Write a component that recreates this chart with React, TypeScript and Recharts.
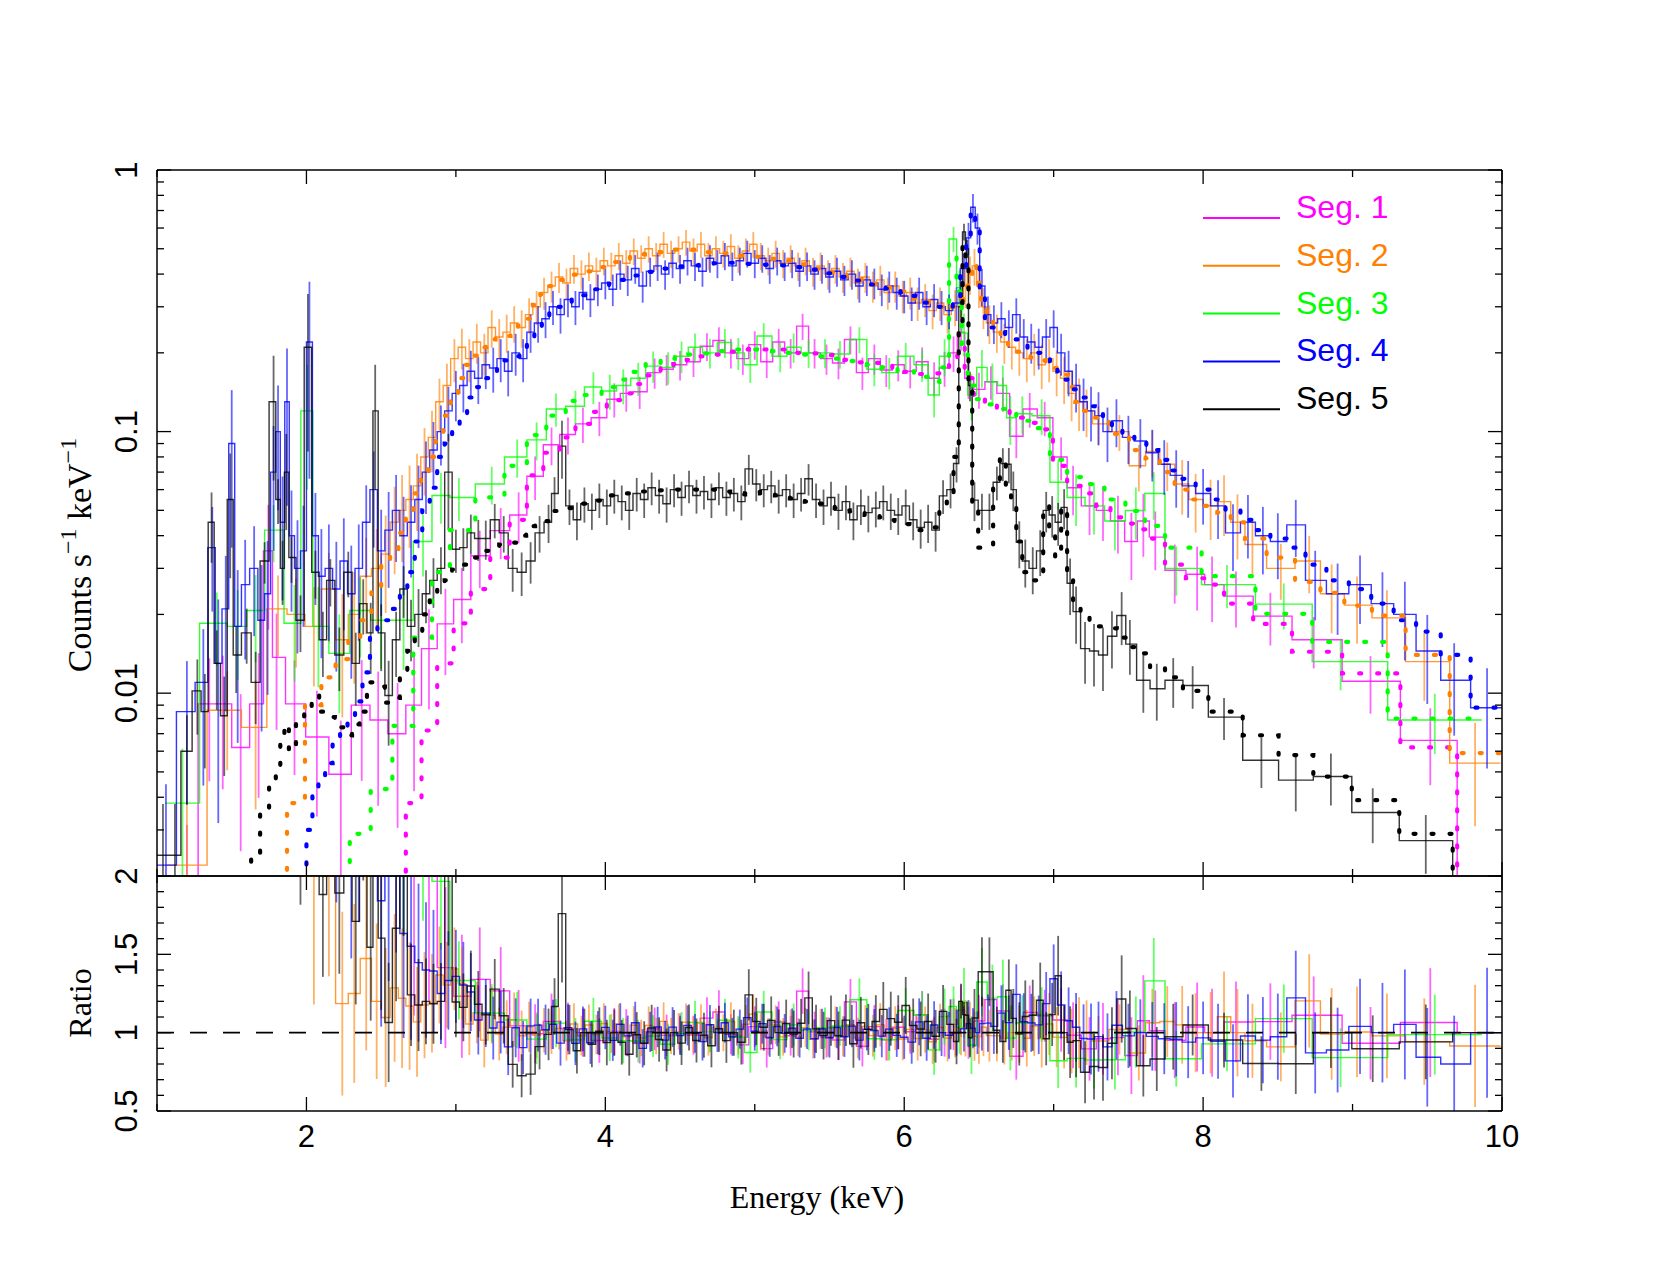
import React from "react";
import { ComposedChart, Line, XAxis, YAxis, ErrorBar, ReferenceLine } from "recharts";

// [energy keV, counts s^-1 keV^-1, model, optional relative error]
type Bin = [number, number, number, number?];

const seg1: Bin[] = [
  [1.2, 0.0015, 0.0003], [1.35, 0.0091, 0.0003], [1.44, 0.0091, 0.0003], [1.56, 0.0062, 0.0003],
  [1.68, 0.0091, 0.0003], [1.745, 0.035, 0.0003, 0.5], [1.8, 0.0137, 0.0003], [1.92, 0.0091, 0.0003],
  [2.07, 0.0068, 0.0003], [2.23, 0.0049, 0.0003], [2.37, 0.009, 0.0003], [2.48, 0.0079, 0.0003],
  [2.61, 0.007, 0.0003], [2.72, 0.009, 0.0038], [2.82, 0.0148, 0.0072], [2.93, 0.0184, 0.013],
  [3.04, 0.0228, 0.0185], [3.16, 0.0335, 0.025], [3.3, 0.0418, 0.033], [3.42, 0.048, 0.046],
  [3.53, 0.0675, 0.068], [3.64, 0.089, 0.083], [3.75, 0.0975, 0.095], [3.85, 0.107, 0.107],
  [3.96, 0.113, 0.119], [4.06, 0.133, 0.132], [4.14, 0.14, 0.14], [4.23, 0.142, 0.152],
  [4.33, 0.168, 0.164], [4.41, 0.173, 0.176], [4.5, 0.18, 0.181], [4.59, 0.185, 0.188],
  [4.68, 0.212, 0.194], [4.76, 0.223, 0.197], [4.84, 0.2, 0.202], [4.92, 0.19, 0.206],
  [5.0, 0.215, 0.207], [5.08, 0.185, 0.206], [5.16, 0.22, 0.206], [5.24, 0.2, 0.204],
  [5.32, 0.253, 0.2], [5.4, 0.2, 0.199], [5.48, 0.19, 0.196], [5.56, 0.183, 0.192],
  [5.64, 0.225, 0.188], [5.72, 0.168, 0.184], [5.8, 0.19, 0.183], [5.88, 0.172, 0.18],
  [5.96, 0.18, 0.174], [6.04, 0.17, 0.169], [6.12, 0.185, 0.166], [6.2, 0.16, 0.167],
  [6.27, 0.175, 0.175], [6.33, 0.2, 0.19], [6.38, 0.24, 0.21], [6.43, 0.16, 0.16],
  [6.5, 0.145, 0.135], [6.58, 0.155, 0.128], [6.66, 0.14, 0.123], [6.75, 0.096, 0.113],
  [6.84, 0.122, 0.108], [6.94, 0.113, 0.102], [7.05, 0.08, 0.074], [7.13, 0.061, 0.062],
  [7.24, 0.052, 0.058], [7.33, 0.05, 0.052], [7.43, 0.0455, 0.047], [7.52, 0.038, 0.0445],
  [7.6, 0.0455, 0.0423], [7.68, 0.0395, 0.039], [7.81, 0.0295, 0.031], [7.96, 0.0285, 0.0275],
  [8.06, 0.026, 0.026], [8.22, 0.0235, 0.022], [8.45, 0.0197, 0.0184], [8.74, 0.016, 0.0144],
  [9.12, 0.0111, 0.0119], [9.52, 0.0066, 0.0062], [9.88, 0.0008, 0.0008, 0],
];

const seg2: Bin[] = [
  [1.2, 0.0022, 0.0003], [1.47, 0.0086, 0.0003], [1.66, 0.0074, 0.0004], [1.81, 0.021, 0.0012],
  [1.93, 0.02, 0.0038], [2.05, 0.018, 0.009], [2.15, 0.025, 0.0115], [2.24, 0.016, 0.0135],
  [2.32, 0.02, 0.016], [2.4, 0.028, 0.019], [2.47, 0.03, 0.025], [2.53, 0.034, 0.031],
  [2.59, 0.045, 0.035], [2.64, 0.05, 0.041], [2.69, 0.055, 0.047], [2.74, 0.062, 0.058],
  [2.79, 0.08, 0.068], [2.84, 0.095, 0.08], [2.89, 0.13, 0.095], [2.94, 0.15, 0.115],
  [2.99, 0.19, 0.135], [3.04, 0.21, 0.16], [3.09, 0.19, 0.18], [3.14, 0.22, 0.195],
  [3.19, 0.2, 0.21], [3.24, 0.25, 0.225], [3.29, 0.23, 0.232], [3.34, 0.24, 0.232],
  [3.39, 0.26, 0.24], [3.44, 0.25, 0.255], [3.49, 0.28, 0.27], [3.54, 0.3, 0.305],
  [3.59, 0.34, 0.335], [3.64, 0.36, 0.36], [3.69, 0.39, 0.38], [3.74, 0.37, 0.39],
  [3.79, 0.42, 0.398], [3.84, 0.4, 0.408], [3.89, 0.43, 0.41], [3.94, 0.41, 0.415],
  [3.99, 0.45, 0.425], [4.04, 0.43, 0.432], [4.09, 0.47, 0.445], [4.14, 0.44, 0.452],
  [4.19, 0.49, 0.468], [4.24, 0.46, 0.476], [4.29, 0.5, 0.478], [4.34, 0.47, 0.48],
  [4.39, 0.52, 0.485], [4.44, 0.48, 0.49], [4.49, 0.5, 0.496], [4.54, 0.53, 0.497],
  [4.59, 0.49, 0.496], [4.64, 0.52, 0.49], [4.69, 0.47, 0.485], [4.74, 0.5, 0.483],
  [4.79, 0.48, 0.48], [4.84, 0.51, 0.476], [4.89, 0.46, 0.47], [4.94, 0.49, 0.465],
  [4.99, 0.52, 0.465], [5.04, 0.47, 0.466], [5.09, 0.45, 0.462], [5.14, 0.48, 0.457],
  [5.19, 0.44, 0.452], [5.24, 0.46, 0.449], [5.29, 0.43, 0.442], [5.34, 0.45, 0.436],
  [5.39, 0.41, 0.428], [5.44, 0.43, 0.42], [5.49, 0.4, 0.411], [5.54, 0.42, 0.405],
  [5.59, 0.39, 0.399], [5.64, 0.41, 0.39], [5.69, 0.37, 0.383], [5.74, 0.39, 0.375],
  [5.79, 0.36, 0.367], [5.84, 0.38, 0.362], [5.89, 0.34, 0.356], [5.94, 0.36, 0.35],
  [5.99, 0.33, 0.344], [6.04, 0.34, 0.333], [6.09, 0.31, 0.322], [6.14, 0.32, 0.314],
  [6.19, 0.29, 0.308], [6.24, 0.31, 0.3], [6.29, 0.28, 0.29], [6.34, 0.3, 0.3],
  [6.38, 0.33, 0.32], [6.41, 0.36, 0.35], [6.44, 0.4, 0.39], [6.47, 0.43, 0.44],
  [6.5, 0.36, 0.37], [6.53, 0.3, 0.29], [6.57, 0.26, 0.265], [6.62, 0.24, 0.245],
  [6.67, 0.22, 0.228], [6.72, 0.21, 0.21], [6.77, 0.2, 0.202], [6.82, 0.19, 0.197],
  [6.87, 0.2, 0.192], [6.92, 0.18, 0.187], [6.97, 0.19, 0.18], [7.02, 0.17, 0.175],
  [7.07, 0.16, 0.165], [7.12, 0.14, 0.148], [7.17, 0.13, 0.13], [7.22, 0.12, 0.12],
  [7.3, 0.107, 0.113], [7.44, 0.1, 0.098], [7.57, 0.074, 0.085], [7.66, 0.084, 0.079],
  [7.76, 0.075, 0.07], [7.86, 0.063, 0.06], [7.95, 0.055, 0.055], [8.05, 0.052, 0.052],
  [8.14, 0.054, 0.049], [8.23, 0.045, 0.045], [8.33, 0.037, 0.039], [8.52, 0.03, 0.033],
  [8.71, 0.032, 0.0266], [8.86, 0.024, 0.0242], [9.03, 0.0217, 0.0216], [9.23, 0.0194, 0.0198],
  [9.48, 0.0132, 0.014], [9.82, 0.0054, 0.0059],
];

const seg3: Bin[] = [
  [1.17, 0.0038, 0.0003], [1.4, 0.0185, 0.0003], [1.54, 0.018, 0.0003], [1.66, 0.0207, 0.0003],
  [1.78, 0.042, 0.0003], [1.92, 0.0185, 0.0003], [2.005, 0.12, 0.0003, 0.5], [2.08, 0.018, 0.0003],
  [2.22, 0.0142, 0.0003], [2.36, 0.0207, 0.0029], [2.5, 0.019, 0.0043], [2.65, 0.019, 0.0075],
  [2.78, 0.038, 0.0163], [2.9, 0.057, 0.029], [3.02, 0.056, 0.042], [3.24, 0.063, 0.056],
  [3.41, 0.08, 0.074], [3.54, 0.093, 0.097], [3.67, 0.122, 0.115], [3.8, 0.125, 0.131],
  [3.92, 0.148, 0.138], [4.03, 0.143, 0.148], [4.12, 0.15, 0.158], [4.22, 0.16, 0.169],
  [4.32, 0.178, 0.182], [4.42, 0.176, 0.19], [4.51, 0.194, 0.195], [4.6, 0.21, 0.197],
  [4.7, 0.2, 0.199], [4.8, 0.219, 0.203], [4.89, 0.2, 0.206], [4.97, 0.18, 0.206],
  [5.06, 0.232, 0.205], [5.17, 0.194, 0.203], [5.26, 0.21, 0.2], [5.36, 0.2, 0.197],
  [5.47, 0.2, 0.194], [5.57, 0.198, 0.19], [5.7, 0.225, 0.186], [5.8, 0.173, 0.18],
  [5.9, 0.168, 0.176], [6.01, 0.194, 0.17], [6.12, 0.18, 0.162], [6.2, 0.138, 0.155],
  [6.27, 0.194, 0.176], [6.33, 0.545, 0.467], [6.37, 0.355, 0.343], [6.4, 0.238, 0.2],
  [6.45, 0.138, 0.15], [6.52, 0.176, 0.133], [6.59, 0.155, 0.127], [6.66, 0.15, 0.122],
  [6.71, 0.113, 0.117], [6.79, 0.117, 0.11], [6.92, 0.115, 0.103], [7.03, 0.064, 0.078],
  [7.15, 0.056, 0.067], [7.27, 0.052, 0.063], [7.41, 0.0455, 0.055], [7.55, 0.0499, 0.0497],
  [7.67, 0.058, 0.0436], [7.82, 0.03, 0.036], [8.16, 0.026, 0.028], [8.54, 0.0219, 0.0201],
  [8.92, 0.0132, 0.0157], [9.55, 0.0079, 0.008],
];

const seg4: Bin[] = [
  [1.06, 0.0022, 0.0003], [1.2, 0.0085, 0.0003], [1.31, 0.011, 0.0003], [1.37, 0.036, 0.0003],
  [1.41, 0.013, 0.0003], [1.46, 0.021, 0.0003], [1.5, 0.09, 0.0003, 0.6], [1.54, 0.018, 0.0003],
  [1.59, 0.026, 0.0003], [1.65, 0.03, 0.0003], [1.7, 0.019, 0.0003], [1.74, 0.024, 0.0003],
  [1.78, 0.07, 0.0003, 0.5], [1.81, 0.1, 0.0003, 0.5], [1.84, 0.045, 0.0003], [1.87, 0.13, 0.0003, 0.6],
  [1.9, 0.04, 0.0003], [1.94, 0.03, 0.0003], [1.98, 0.035, 0.0015], [2.02, 0.22, 0.003, 0.7],
  [2.06, 0.04, 0.0041], [2.1, 0.028, 0.0045], [2.15, 0.03, 0.0054], [2.2, 0.025, 0.0066],
  [2.25, 0.032, 0.0072], [2.3, 0.024, 0.0077], [2.35, 0.03, 0.0093], [2.4, 0.045, 0.012],
  [2.45, 0.06, 0.0165, 0.4], [2.5, 0.035, 0.019], [2.55, 0.042, 0.019], [2.6, 0.05, 0.021],
  [2.65, 0.04, 0.0245], [2.7, 0.045, 0.029], [2.75, 0.055, 0.038], [2.8, 0.07, 0.05],
  [2.85, 0.085, 0.061], [2.9, 0.1, 0.08], [2.95, 0.12, 0.09], [3.0, 0.14, 0.103],
  [3.05, 0.15, 0.115], [3.1, 0.17, 0.135], [3.15, 0.16, 0.148], [3.2, 0.18, 0.16],
  [3.25, 0.175, 0.17], [3.3, 0.19, 0.178], [3.35, 0.17, 0.187], [3.4, 0.2, 0.194],
  [3.45, 0.19, 0.21], [3.5, 0.24, 0.23], [3.55, 0.26, 0.248], [3.6, 0.27, 0.265],
  [3.65, 0.3, 0.285], [3.7, 0.28, 0.3], [3.75, 0.32, 0.31], [3.8, 0.3, 0.322],
  [3.85, 0.34, 0.332], [3.9, 0.32, 0.342], [3.95, 0.35, 0.35], [4.0, 0.37, 0.358],
  [4.05, 0.35, 0.368], [4.1, 0.4, 0.38], [4.15, 0.38, 0.388], [4.2, 0.42, 0.395],
  [4.25, 0.36, 0.4], [4.3, 0.41, 0.408], [4.35, 0.43, 0.415], [4.4, 0.4, 0.42],
  [4.45, 0.44, 0.425], [4.5, 0.42, 0.428], [4.55, 0.45, 0.43], [4.6, 0.43, 0.432],
  [4.65, 0.41, 0.435], [4.7, 0.46, 0.438], [4.75, 0.44, 0.44], [4.8, 0.47, 0.442],
  [4.85, 0.43, 0.442], [4.9, 0.45, 0.44], [4.95, 0.48, 0.438], [5.0, 0.44, 0.436],
  [5.05, 0.46, 0.435], [5.1, 0.42, 0.434], [5.15, 0.45, 0.433], [5.2, 0.43, 0.432],
  [5.25, 0.44, 0.428], [5.3, 0.41, 0.425], [5.35, 0.43, 0.42], [5.4, 0.4, 0.416],
  [5.45, 0.42, 0.41], [5.5, 0.39, 0.403], [5.55, 0.41, 0.397], [5.6, 0.38, 0.39],
  [5.65, 0.4, 0.384], [5.7, 0.36, 0.378], [5.75, 0.38, 0.372], [5.8, 0.37, 0.365],
  [5.85, 0.35, 0.358], [5.9, 0.36, 0.352], [5.95, 0.34, 0.346], [6.0, 0.33, 0.34],
  [6.05, 0.31, 0.33], [6.1, 0.34, 0.318], [6.15, 0.3, 0.311], [6.2, 0.32, 0.305],
  [6.25, 0.3, 0.3], [6.3, 0.29, 0.295], [6.35, 0.31, 0.31], [6.4, 0.42, 0.41],
  [6.43, 0.55, 0.52], [6.46, 0.72, 0.7], [6.49, 0.6, 0.6], [6.52, 0.36, 0.34],
  [6.56, 0.28, 0.264], [6.6, 0.26, 0.25], [6.65, 0.27, 0.24], [6.7, 0.25, 0.235],
  [6.75, 0.28, 0.225], [6.8, 0.23, 0.215], [6.85, 0.22, 0.207], [6.9, 0.21, 0.2],
  [6.95, 0.23, 0.194], [7.0, 0.25, 0.186], [7.05, 0.2, 0.17], [7.1, 0.17, 0.158],
  [7.15, 0.15, 0.145], [7.2, 0.13, 0.135], [7.25, 0.12, 0.125], [7.3, 0.115, 0.118],
  [7.36, 0.1, 0.11], [7.42, 0.11, 0.105], [7.5, 0.095, 0.097], [7.58, 0.092, 0.092],
  [7.66, 0.083, 0.085], [7.74, 0.075, 0.078], [7.82, 0.068, 0.071], [7.9, 0.062, 0.066],
  [8.0, 0.058, 0.06], [8.1, 0.052, 0.055], [8.2, 0.041, 0.05], [8.3, 0.045, 0.046],
  [8.4, 0.04, 0.042], [8.5, 0.038, 0.039], [8.62, 0.044, 0.036], [8.75, 0.027, 0.031],
  [8.9, 0.024, 0.027], [9.05, 0.026, 0.025], [9.2, 0.022, 0.022], [9.35, 0.02, 0.019],
  [9.5, 0.0145, 0.0172], [9.68, 0.0112, 0.014], [9.9, 0.0088, 0.0088],
];

const seg5: Bin[] = [
  [1.04, 0.0024, 0.0003], [1.12, 0.0024, 0.0003], [1.2, 0.006, 0.0003], [1.27, 0.0102, 0.0003],
  [1.32, 0.0085, 0.0003], [1.365, 0.045, 0.0003, 0.3], [1.4, 0.013, 0.0003], [1.45, 0.0082, 0.0003],
  [1.49, 0.055, 0.0003, 0.5], [1.53, 0.014, 0.0003], [1.6, 0.017, 0.0003], [1.66, 0.011, 0.0024],
  [1.72, 0.032, 0.0036], [1.78, 0.13, 0.0046, 0.5], [1.81, 0.055, 0.005], [1.84, 0.03, 0.0066],
  [1.865, 0.07, 0.0076, 0.4], [1.9, 0.033, 0.006], [1.96, 0.019, 0.0079], [2.01, 0.21, 0.0089, 0.6],
  [2.06, 0.029, 0.0098], [2.11, 0.016, 0.0085], [2.16, 0.027, 0.0081], [2.22, 0.014, 0.0074],
  [2.28, 0.029, 0.0069], [2.33, 0.013, 0.0076], [2.38, 0.022, 0.0085], [2.43, 0.017, 0.011],
  [2.46, 0.12, 0.0108, 0.5], [2.5, 0.017, 0.0106], [2.55, 0.0098, 0.0092], [2.6, 0.016, 0.0096],
  [2.65, 0.025, 0.012], [2.7, 0.018, 0.0145], [2.75, 0.02, 0.017], [2.8, 0.024, 0.02],
  [2.85, 0.027, 0.0228], [2.9, 0.03, 0.025], [2.95, 0.07, 0.027, 0.4], [3.0, 0.0355, 0.0297],
  [3.05, 0.036, 0.031], [3.1, 0.041, 0.0316], [3.15, 0.039, 0.033], [3.2, 0.039, 0.035],
  [3.26, 0.046, 0.036], [3.32, 0.041, 0.037], [3.38, 0.03, 0.0376], [3.44, 0.029, 0.04],
  [3.5, 0.032, 0.0435], [3.56, 0.041, 0.045], [3.62, 0.045, 0.0455], [3.66, 0.058, 0.0497],
  [3.71, 0.088, 0.05, 0.25], [3.76, 0.052, 0.051], [3.81, 0.046, 0.052], [3.86, 0.053, 0.053],
  [3.91, 0.05, 0.054], [3.96, 0.055, 0.0545], [4.01, 0.052, 0.0555], [4.06, 0.057, 0.057],
  [4.11, 0.054, 0.0575], [4.16, 0.05, 0.058], [4.21, 0.058, 0.0588], [4.26, 0.055, 0.059],
  [4.31, 0.061, 0.0592], [4.36, 0.057, 0.0596], [4.41, 0.053, 0.0596], [4.46, 0.06, 0.06],
  [4.51, 0.056, 0.06], [4.56, 0.062, 0.06], [4.61, 0.057, 0.06], [4.66, 0.059, 0.06],
  [4.71, 0.055, 0.06], [4.76, 0.061, 0.0595], [4.81, 0.056, 0.059], [4.86, 0.058, 0.058],
  [4.91, 0.054, 0.0575], [4.96, 0.072, 0.058], [5.01, 0.063, 0.0588], [5.06, 0.06, 0.058],
  [5.11, 0.062, 0.0575], [5.16, 0.057, 0.057], [5.21, 0.06, 0.0567], [5.26, 0.055, 0.0555],
  [5.31, 0.058, 0.0547], [5.36, 0.066, 0.054], [5.41, 0.055, 0.0537], [5.46, 0.052, 0.053],
  [5.51, 0.056, 0.052], [5.56, 0.05, 0.051], [5.61, 0.054, 0.05], [5.66, 0.046, 0.0495],
  [5.71, 0.052, 0.0489], [5.76, 0.049, 0.048], [5.81, 0.051, 0.0476], [5.86, 0.054, 0.047],
  [5.91, 0.05, 0.0459], [5.96, 0.048, 0.045], [6.01, 0.052, 0.0443], [6.06, 0.046, 0.044],
  [6.11, 0.043, 0.042], [6.16, 0.045, 0.042], [6.21, 0.042, 0.043], [6.26, 0.0568, 0.05],
  [6.31, 0.06, 0.057], [6.35, 0.0755, 0.08], [6.38, 0.3, 0.25], [6.4, 0.58, 0.52],
  [6.42, 0.5, 0.45], [6.44, 0.15, 0.155], [6.47, 0.0547, 0.05], [6.52, 0.05, 0.036],
  [6.57, 0.05, 0.036], [6.62, 0.064, 0.063], [6.66, 0.0755, 0.08], [6.7, 0.075, 0.059],
  [6.73, 0.06, 0.055], [6.77, 0.0377, 0.038], [6.81, 0.032, 0.029], [6.86, 0.03, 0.027],
  [6.91, 0.035, 0.029], [6.95, 0.05, 0.052], [6.99, 0.048, 0.043], [7.03, 0.045, 0.033],
  [7.07, 0.0513, 0.0513], [7.11, 0.0263, 0.028], [7.15, 0.0205, 0.0216], [7.21, 0.0148, 0.0198],
  [7.27, 0.0145, 0.0185], [7.33, 0.014, 0.018], [7.39, 0.0165, 0.0177], [7.455, 0.0198, 0.0163],
  [7.51, 0.0154, 0.015], [7.6, 0.0112, 0.0142], [7.69, 0.0104, 0.0125], [7.8, 0.0112, 0.0115],
  [7.93, 0.0107, 0.0102], [8.14, 0.0081, 0.0085], [8.39, 0.00554, 0.0069], [8.62, 0.00465, 0.0058],
  [8.855, 0.0048, 0.0048], [9.135, 0.0035, 0.0039], [9.49, 0.00273, 0.0029], [9.85, 0.0008, 0.0008, 0],
];

const segNames = ["Seg. 1", "Seg. 2", "Seg. 3", "Seg. 4", "Seg. 5"];
const segColors = ["#ff00ff", "#ff7f00", "#00ff00", "#0000ff", "#000000"];
const segExposure = [3750, 3000, 3000, 3000, 16000];
const segBins = [seg1, seg2, seg3, seg4, seg5];

const xTicks = [1, 2, 3, 4, 5, 6, 7, 8, 9, 10];
const xMajor = [2, 4, 6, 8, 10];
const countTicks = [
  0.002, 0.003, 0.004, 0.005, 0.006, 0.007, 0.008, 0.009,
  0.01, 0.02, 0.03, 0.04, 0.05, 0.06, 0.07, 0.08, 0.09,
  0.1, 0.2, 0.3, 0.4, 0.5, 0.6, 0.7, 0.8, 0.9, 1,
];
const countMajor = [0.01, 0.1, 1];
const countDomain: [number, number] = [0.002, 1];
const ratioTicks = [0.5, 0.6, 0.7, 0.8, 0.9, 1, 1.1, 1.2, 1.3, 1.4, 1.5, 1.6, 1.7, 1.8, 1.9, 2];
const ratioMajor = [0.5, 1, 1.5, 2];
const ratioDomain: [number, number] = [0.5, 2];

const W = 1661;
const H = 1283;
const LEFT = 157;
const RIGHT = 1502;
const TOP = 170;
const MID = 876;
const BOTTOM = 1111;
const SANS = '"Liberation Sans", Arial, Helvetica, sans-serif';
const SERIF = '"Liberation Serif", "Times New Roman", serif';
const frame = { stroke: "#000", strokeWidth: 1.5 };

// error bar bounds kept inside the panel's value range
function bounds(v: number, lo: number, hi: number, d: [number, number]) {
  const a = Math.max(v - lo, d[0]);
  const b = Math.min(v + hi, d[1]);
  if (b <= a) return [v - d[1], d[1] - v];
  return [v - a, b - v];
}

function prepare(bins: Bin[], exposure: number) {
  const n = bins.length;
  const c = bins.map((b) => b[0]);
  const edges = [c[0] - (c[1] - c[0]) / 2];
  for (let i = 1; i < n; i++) edges.push((c[i - 1] + c[i]) / 2);
  edges.push(c[n - 1] + (c[n - 1] - c[n - 2]) / 2);
  const steps = edges.map((e, i) => {
    const b = bins[Math.min(i, n - 1)];
    return { e, rate: b[1], model: b[2], ratio: b[1] / b[2] };
  });
  const points = bins.map((b, i) => {
    const w = edges[i + 1] - edges[i];
    const rel = b[3] !== undefined ? b[3] : 1 / Math.sqrt(b[1] * w * exposure);
    const err = b[1] * rel;
    const ratio = b[1] / b[2];
    // no ratio error where the model lies below the plotted range
    const rErr = b[2] < countDomain[0] ? 0 : err / b[2];
    return {
      e: b[0],
      rate: b[1],
      rateErr: bounds(b[1], Math.min(err, b[1] * 0.9), err, countDomain),
      ratio,
      ratioErr: bounds(ratio, rErr, rErr, ratioDomain),
    };
  });
  return { steps, points };
}

const segments = segBins.map((bins, i) => ({
  name: segNames[i],
  color: segColors[i],
  ...prepare(bins, segExposure[i]),
}));

const near = (v: number, list: number[]) => list.some((m) => Math.abs(v - m) < 1e-9);

function xTick(dir: number, withLabel: boolean) {
  return (p: any) => {
    const v = p.payload.value;
    const major = near(v, xMajor);
    return (
      <g>
        <line x1={p.x} x2={p.x} y1={p.y} y2={p.y + dir * (major ? 14 : 7)} stroke="#000" strokeWidth={1.3} />
        {withLabel && major && (
          <text x={p.x} y={p.y + 36} textAnchor="middle" fontSize={31} fontFamily={SANS} fill="#000">
            {v}
          </text>
        )}
      </g>
    );
  };
}

function yTick(dir: number, majors: number[], withLabel: boolean) {
  return (p: any) => {
    const v = p.payload.value;
    const major = near(v, majors);
    const lx = p.x - 20;
    return (
      <g>
        <line x1={p.x} x2={p.x + dir * (major ? 14 : 7)} y1={p.y} y2={p.y} stroke="#000" strokeWidth={1.3} />
        {withLabel && major && (
          <text x={lx} y={p.y} transform={`rotate(-90 ${lx} ${p.y})`} textAnchor="middle" fontSize={31}
            fontFamily={SANS} fill="#000">
            {String(v)}
          </text>
        )}
      </g>
    );
  };
}

function axes(yTicks: number[], yMajor: number[], domain: [number, number], log: boolean, bottomLabels: boolean) {
  return [
    <XAxis key="xb" xAxisId="b" dataKey="e" type="number" domain={[1, 10]} ticks={xTicks} interval={0}
      allowDataOverflow height={1} tickSize={0} tickMargin={0} tickLine={false} axisLine={frame}
      tick={xTick(-1, bottomLabels)} />,
    <XAxis key="xt" xAxisId="t" orientation="top" dataKey="e" type="number" domain={[1, 10]} ticks={xTicks}
      interval={0} allowDataOverflow height={1} tickSize={0} tickMargin={0} tickLine={false} axisLine={frame}
      tick={xTick(1, false)} />,
    <YAxis key="yl" yAxisId="l" type="number" scale={log ? "log" : "linear"} domain={domain} ticks={yTicks}
      interval={0} allowDataOverflow width={100} tickSize={0} tickMargin={0} tickLine={false} axisLine={frame}
      tick={yTick(1, yMajor, true)} />,
    <YAxis key="yr" yAxisId="r" orientation="right" type="number" scale={log ? "log" : "linear"} domain={domain}
      ticks={yTicks} interval={0} allowDataOverflow width={1} tickSize={0} tickMargin={0} tickLine={false}
      axisLine={frame} tick={yTick(-1, yMajor, false)} />,
  ];
}

function dataLines(valueKey: "rate" | "ratio", errKey: "rateErr" | "ratioErr") {
  const out: React.ReactNode[] = [];
  segments.forEach((s) => {
    out.push(
      <Line key={s.name + valueKey + "s"} xAxisId="b" yAxisId="l" data={s.steps} dataKey={valueKey}
        type="stepAfter" stroke={s.color} strokeWidth={1.4} strokeOpacity={0.8} dot={false} activeDot={false}
        isAnimationActive={false} />
    );
    out.push(
      <Line key={s.name + valueKey + "e"} xAxisId="b" yAxisId="l" data={s.points} dataKey={valueKey}
        stroke="none" dot={false} activeDot={false} isAnimationActive={false}>
        <ErrorBar dataKey={errKey} width={0} stroke={s.color} strokeWidth={1.8} strokeOpacity={0.6}
          isAnimationActive={false} />
      </Line>
    );
  });
  return out;
}

export default function App() {
  return (
    <div style={{ position: "absolute", left: 0, top: 0, width: W, height: H, background: "#fff" }}>
      <ComposedChart width={W} height={H}
        margin={{ top: TOP - 1, right: W - RIGHT - 1, bottom: H - MID - 1, left: LEFT - 100 }}
        style={{ position: "absolute", left: 0, top: 0 }}>
        {axes(countTicks, countMajor, countDomain, true, false)}
        {dataLines("rate", "rateErr")}
        {segments.map((s) => (
          <Line key={s.name + "model"} xAxisId="b" yAxisId="l" data={s.steps} dataKey="model" type="stepAfter"
            stroke={s.color} strokeWidth={4.2} strokeDasharray="2 16" strokeLinecap="round" dot={false}
            activeDot={false} isAnimationActive={false} />
        ))}
      </ComposedChart>

      <ComposedChart width={W} height={H}
        margin={{ top: MID - 1, right: W - RIGHT - 1, bottom: H - BOTTOM - 1, left: LEFT - 100 }}
        style={{ position: "absolute", left: 0, top: 0 }}>
        {axes(ratioTicks, ratioMajor, ratioDomain, false, true)}
        {dataLines("ratio", "ratioErr")}
        <ReferenceLine xAxisId="b" yAxisId="l" y={1} stroke="#000" strokeWidth={1.8} strokeDasharray="17 16" />
      </ComposedChart>

      <svg width={W} height={H} style={{ position: "absolute", left: 0, top: 0, pointerEvents: "none" }}>
        {segNames.map((name, i) => (
          <g key={name}>
            <line x1={1203} x2={1280} y1={218 + i * 47.8} y2={218 + i * 47.8} stroke={segColors[i]} strokeWidth={2} />
            <text x={1296} y={218 + i * 47.8} fontSize={32} fontFamily={SANS} fill={segColors[i]}>
              {name}
            </text>
          </g>
        ))}
        <text x={817} y={1208} textAnchor="middle" fontSize={32} fontFamily={SERIF} fill="#000">
          Energy (keV)
        </text>
        <text x={91} y={555} transform="rotate(-90 91 555)" textAnchor="middle" fontSize={34} fontFamily={SERIF}
          fill="#000">
          Counts s<tspan dy={-15} fontSize={24}>−1</tspan>
          <tspan dy={15}> keV</tspan>
          <tspan dy={-15} fontSize={24}>−1</tspan>
        </text>
        <text x={91} y={1003} transform="rotate(-90 91 1003)" textAnchor="middle" fontSize={32} fontFamily={SERIF}
          fill="#000">
          Ratio
        </text>
      </svg>
    </div>
  );
}
